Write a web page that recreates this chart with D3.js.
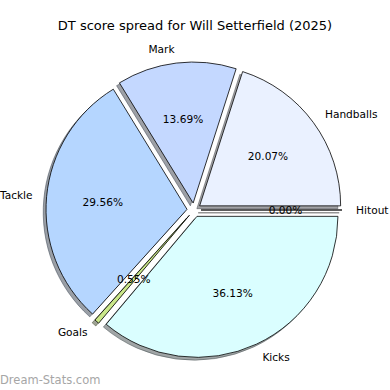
<!DOCTYPE html>
<html><head><meta charset="utf-8">
<script src="https://cdn.jsdelivr.net/npm/d3@7"></script>
<style>body{margin:0;background:#fff}svg{display:block}</style>
</head><body>
<div id="chart"></div>
<script>
const categories = ["Hitout", "Handballs", "Mark", "Tackle", "Goals", "Kicks"];
const values = [0.0, 20.07, 13.69, 29.56, 0.55, 36.13];
const pctLabels = ["0.00%", "20.07%", "13.69%", "29.56%", "0.55%", "36.13%"];
const colors = ["#f0f0f0", "#eaf1ff", "#c4d8ff", "#b5d6ff", "#cbe88a", "#dafeff"];
const title = "DT score spread for Will Setterfield (2025)";

const W = 390, H = 390;
const cx = 194, cy = 210, R = 141, EXP = 7;
const svg = d3.select("#chart").append("svg").attr("width", W).attr("height", H);

const pie = d3.pie().sort(null).value(d => d).startAngle(Math.PI / 2).endAngle(Math.PI / 2 - 2 * Math.PI);
const arcs = pie(values);
const arc = d3.arc().innerRadius(0).outerRadius(R);
const mid = a => (a.startAngle + a.endAngle) / 2;
const off = (a, r) => [Math.sin(mid(a)) * r, -Math.cos(mid(a)) * r];

const g = svg.append("g").attr("transform", `translate(${cx},${cy})`);

// shadows
g.selectAll("path.sh").data(arcs).join("path").attr("class", "sh")
  .attr("transform", d => { const o = off(d, EXP); return `translate(${o[0] - 2.8},${o[1] + 2.8})`; })
  .attr("d", arc)
  .attr("fill", (d, i) => { const c = d3.rgb(colors[i]); return d3.rgb(c.r * 0.3, c.g * 0.3, c.b * 0.3); })
  .attr("fill-opacity", 0.5)
  .attr("stroke", (d, i) => { const c = d3.rgb(colors[i]); return d3.rgb(c.r * 0.3, c.g * 0.3, c.b * 0.3); })
  .attr("stroke-opacity", 0.5)
  .attr("stroke-width", 1);

// wedges
g.selectAll("path.w").data(arcs).join("path").attr("class", "w")
  .attr("transform", d => { const o = off(d, EXP); return `translate(${o[0]},${o[1]})`; })
  .attr("d", arc)
  .attr("fill", (d, i) => colors[i])
  .attr("stroke", "#000").attr("stroke-width", 0.8).attr("stroke-linejoin", "round");

// category labels
g.selectAll("text.lab").data(arcs).join("text").attr("class", "lab")
  .attr("x", d => off(d, EXP + 1.1 * R)[0])
  .attr("y", d => off(d, EXP + 1.1 * R)[1])
  .attr("text-anchor", d => Math.sin(mid(d)) > 0 ? "start" : "end")
  .attr("dominant-baseline", "central")
  .style("font-family", "DejaVu Sans").style("font-size", "10.6px").attr("fill", "#000")
  .text((d, i) => categories[i]);

// pct labels
g.selectAll("text.pct").data(arcs).join("text").attr("class", "pct")
  .attr("x", d => off(d, EXP + 0.6 * R)[0])
  .attr("y", d => off(d, EXP + 0.6 * R)[1])
  .attr("text-anchor", "middle")
  .attr("dominant-baseline", "central")
  .style("font-family", "DejaVu Sans").style("font-size", "10.6px").attr("fill", "#000")
  .text((d, i) => pctLabels[i]);

svg.append("text").attr("x", 195).attr("y", 25).attr("text-anchor", "middle")
  .attr("dominant-baseline", "central")
  .style("font-family", "DejaVu Sans").style("font-size", "13px").attr("fill", "#000")
  .text(title);

svg.append("text").attr("x", 0).attr("y", 380).attr("dominant-baseline", "central")
  .style("font-family", "DejaVu Sans").style("font-size", "11.5px")
  .attr("fill", "#a6a6a6")
  .text("Dream-Stats.com");
</script>
</body></html>
